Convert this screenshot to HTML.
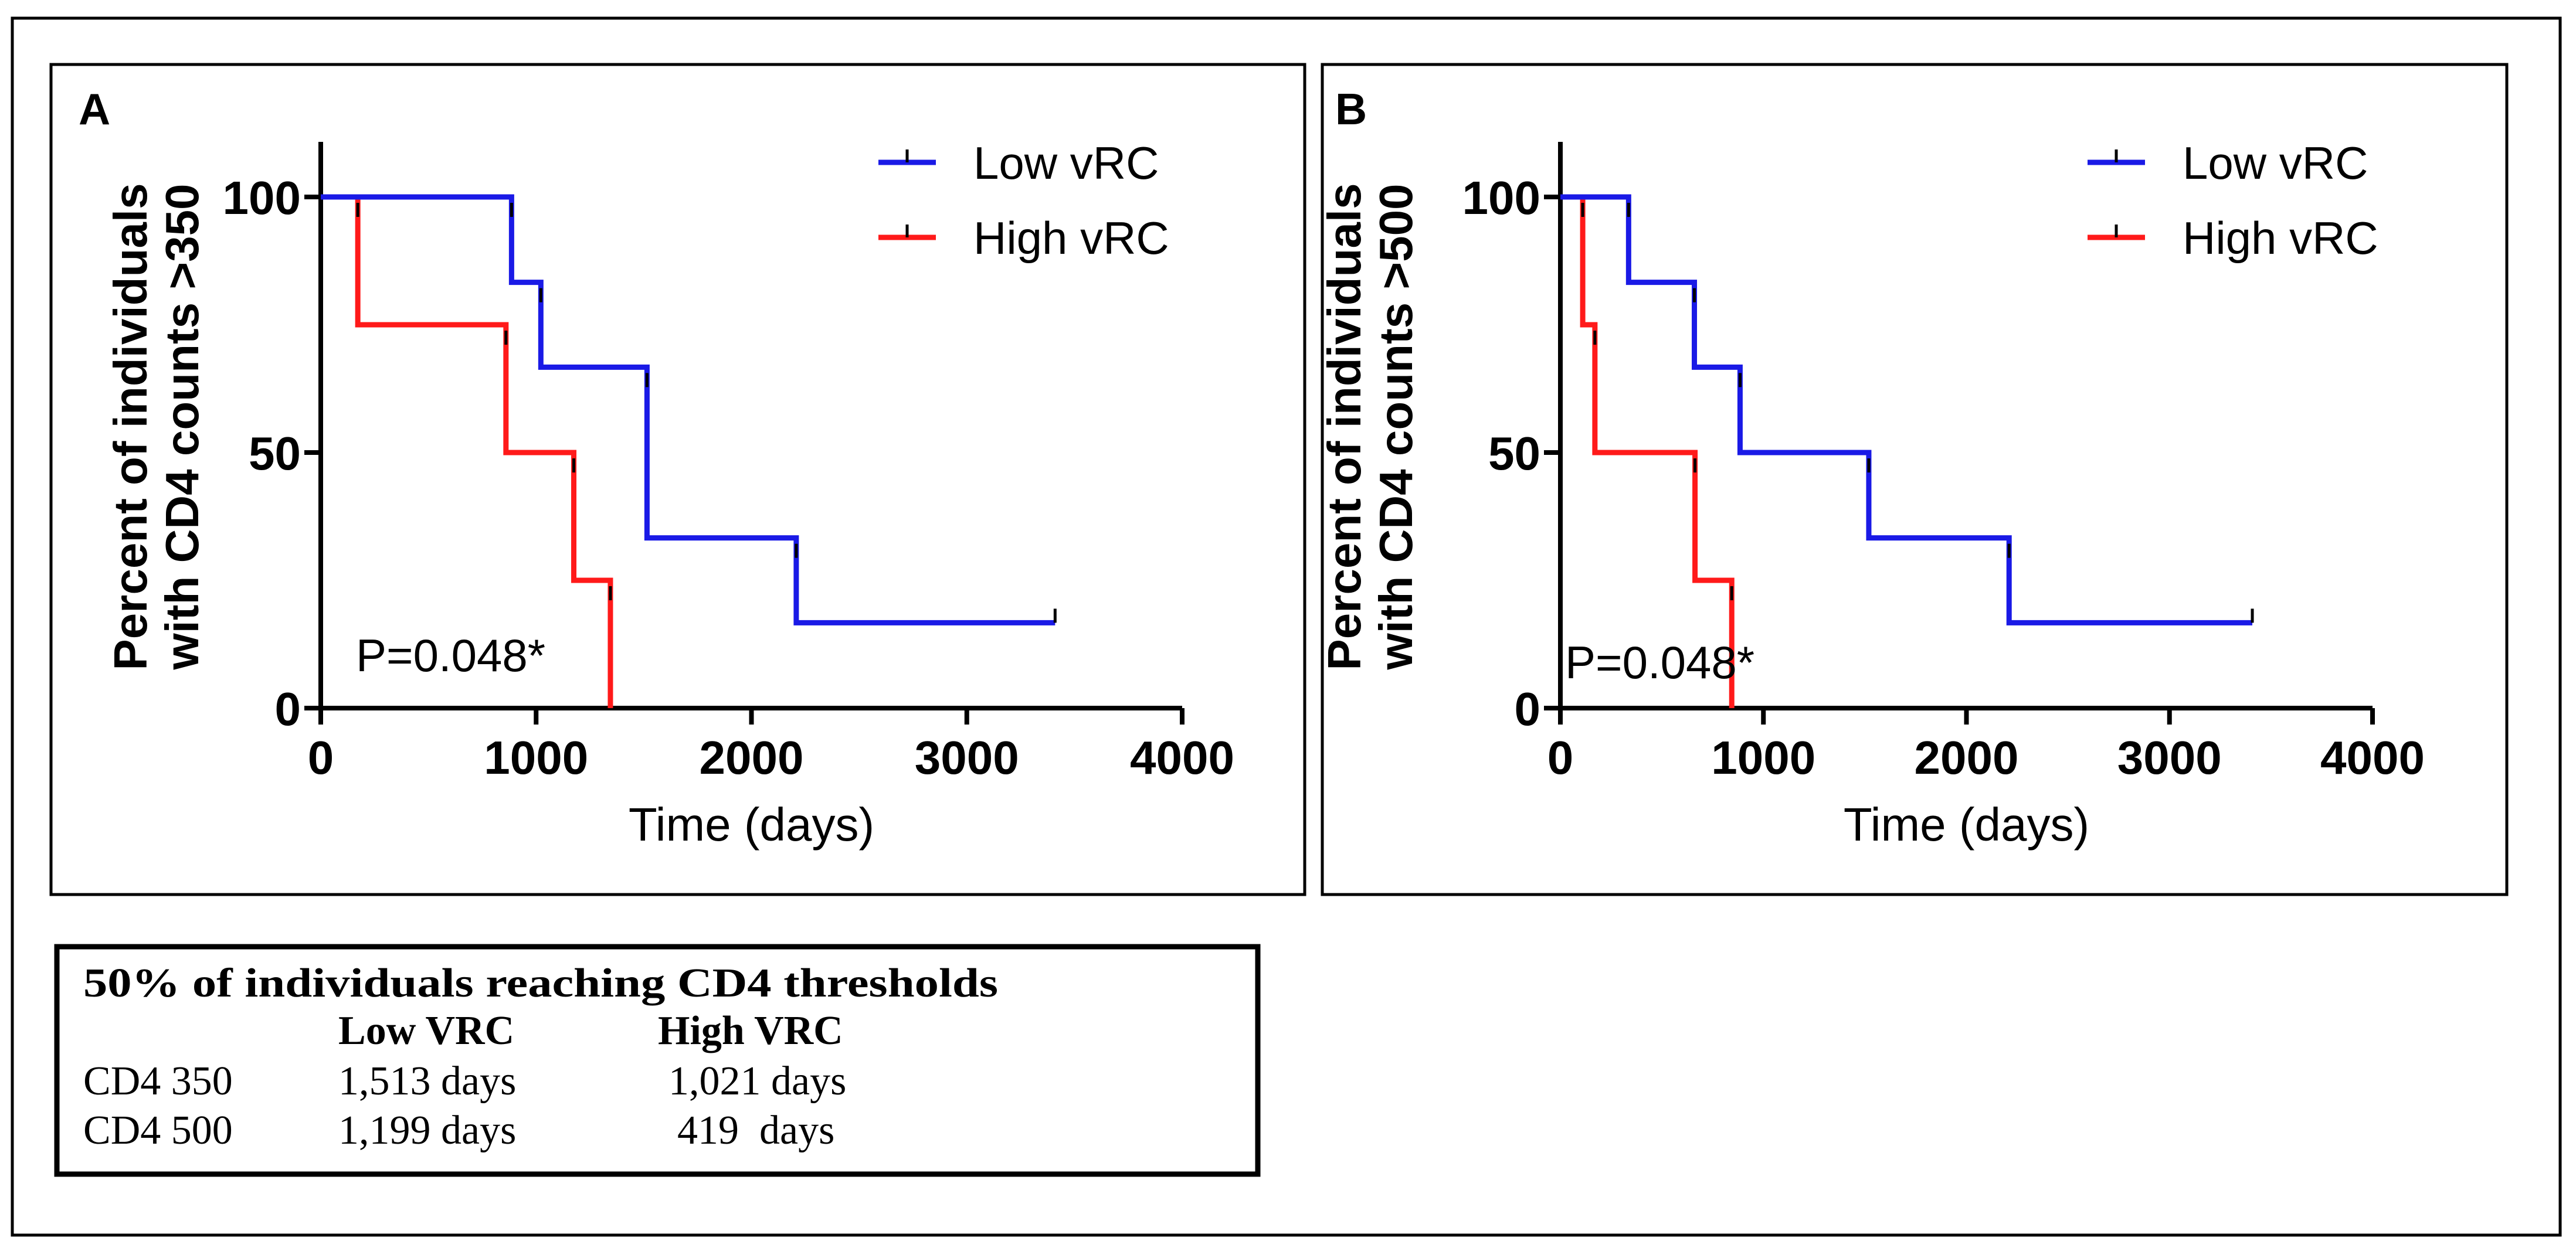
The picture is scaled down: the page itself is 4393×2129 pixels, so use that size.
<!DOCTYPE html>
<html><head><meta charset="utf-8"><style>
html,body{margin:0;padding:0;background:#fff}
svg{display:block}
</style></head><body>
<svg id="fig" width="4393" height="2129" viewBox="0 0 4393 2129" xmlns="http://www.w3.org/2000/svg">
<rect x="21" y="31" width="4345" height="2076" fill="none" stroke="#000" stroke-width="5"/>
<rect x="87" y="110" width="2138" height="1416" fill="none" stroke="#000" stroke-width="5"/>
<rect x="2255" y="110" width="2020" height="1416" fill="none" stroke="#000" stroke-width="5"/>
<g id="chartA"></g>
<g id="chartB"></g>
<g font-family="Liberation Serif, serif" font-size="70" fill="#000">
<rect x="97" y="1615" width="2048" height="388" fill="none" stroke="#000" stroke-width="9"/>
<text x="142" y="1700" font-weight="bold" textLength="1560" lengthAdjust="spacingAndGlyphs">50% of individuals reaching CD4 thresholds</text>
<text x="577" y="1781" font-weight="bold">Low VRC</text>
<text x="1122" y="1781" font-weight="bold">High VRC</text>
<text x="142" y="1867">CD4 350</text>
<text x="577" y="1867">1,513 days</text>
<text x="1140" y="1867">1,021 days</text>
<text x="142" y="1951">CD4 500</text>
<text x="577" y="1951">1,199 days</text>
<text x="1155" y="1951" xml:space="preserve">419  days</text>
</g>
</svg>
<script>
// Panel A data (CD4 > 350)
const xTicks = [0, 1000, 2000, 3000, 4000];
const yTicks = [0, 50, 100];
const lowA_t = [0, 886, 1022, 1515, 2208, 3410];
const lowA_s = [100, 83.3, 66.7, 33.3, 16.7, 16.7];
const highA_t = [0, 172, 860, 1175, 1345];
const highA_s = [100, 75, 50, 25, 0];
// Panel B data (CD4 > 500)
const lowB_t = [0, 336, 660, 885, 1519, 2210, 3408];
const lowB_s = [100, 83.3, 66.7, 50, 33.3, 16.7, 16.7];
const highB_t = [0, 110, 170, 663, 844];
const highB_s = [100, 75, 50, 25, 0];

const NS = "http://www.w3.org/2000/svg";
function mk(tag, attrs, parent){const e=document.createElementNS(NS,tag);for(const k in attrs)e.setAttribute(k,attrs[k]);parent.appendChild(e);return e;}

function drawChart(g, cfg){
  const x = v => cfg.x0 + (v/4000)*(cfg.x1-cfg.x0);
  const y = v => cfg.y0 - (v/100)*(cfg.y0-cfg.y100);
  // axes
  const ax = mk('line',{x1:x(0),y1:y(0),x2:x(4000),y2:y(0),stroke:'#000','stroke-width':8},g);
  
  
  const ay = mk('line',{x1:x(0),y1:cfg.yTop,x2:x(0),y2:y(0)+4,stroke:'#000','stroke-width':8},g);
  
  
  xTicks.forEach(v=>{
    const t = mk('line',{x1:x(v),y1:y(0),x2:x(v),y2:y(0)+28,stroke:'#000','stroke-width':8},g);
    
    
    const l = mk('text',{x:x(v),y:y(0)+112,'text-anchor':'middle','font-family':'Liberation Sans, sans-serif','font-weight':'bold','font-size':80},g);
    l.textContent = v;
    
    
  });
  yTicks.forEach(v=>{
    const t = mk('line',{x1:x(0)-28,y1:y(v),x2:x(0),y2:y(v),stroke:'#000','stroke-width':8},g);
    
    
    const l = mk('text',{x:x(0)-34,y:y(v)+29,'text-anchor':'end','font-family':'Liberation Sans, sans-serif','font-weight':'bold','font-size':80},g);
    l.textContent = v;
    
    
  });
  function series(ts, ss, color, name, censorEnd){
    let d = 'M'+x(ts[0])+','+y(ss[0]);
    for(let i=1;i<ts.length;i++){ d += ' H'+x(ts[i])+' V'+y(ss[i]); }
    const p = mk('path',{d:d,fill:'none',stroke:color,'stroke-width':9},g);
    
    
    for(let i=1;i<ts.length;i++){
      const c = mk('line',{x1:x(ts[i]),y1:y(ss[i-1])+(i==ts.length-1&&censorEnd?-24:10),x2:x(ts[i]),y2:y(ss[i-1])+(i==ts.length-1&&censorEnd?0:34),stroke:'#000','stroke-width':5},g);
      
      
    }
  }
  series(cfg.highT, cfg.highS, '#ff1a1a', 'high-vrc-curve', false);
  series(cfg.lowT, cfg.lowS, '#1a1ae6', 'low-vrc-curve', true);
  // labels
  const pl = mk('text',{x:cfg.lx,y:cfg.ly,'font-family':'Liberation Sans, sans-serif','font-size':75,'font-weight':'bold'},g);
  pl.textContent = cfg.letter;
  
  
  const pv = mk('text',{x:cfg.px,y:cfg.py,'font-family':'Liberation Sans, sans-serif','font-size':78},g);
  pv.textContent = 'P=0.048*';
  
  
  const xt = mk('text',{x:(cfg.x0+cfg.x1)/2,y:cfg.y0+226,'text-anchor':'middle','font-family':'Liberation Sans, sans-serif','font-size':80},g);
  xt.textContent = 'Time (days)';
  
  
  const yt = mk('text',{transform:'translate('+cfg.ytx+',728) rotate(-90)','text-anchor':'middle','font-family':'Liberation Sans, sans-serif','font-size':80,'font-weight':'bold'},g);
  
  
  const s1 = mk('tspan',{x:0,y:0},yt); s1.textContent='Percent of individuals';
  const s2 = mk('tspan',{x:0,y:88},yt); s2.textContent='with CD4 counts '+cfg.thr;
  // legend
  [['Low vRC','#1a1ae6',277],['High vRC','#ff1a1a',405]].forEach(L=>{
    const ln = mk('line',{x1:cfg.legX,y1:L[2],x2:cfg.legX+98,y2:L[2],stroke:L[1],'stroke-width':9},g);
    
    
    const tk = mk('line',{x1:cfg.legX+49,y1:L[2]-22,x2:cfg.legX+49,y2:L[2],stroke:'#000','stroke-width':5},g);
    
    
    const tx = mk('text',{x:cfg.legX+162,y:L[2]+28,'font-family':'Liberation Sans, sans-serif','font-size':78},g);
    tx.textContent = L[0];
    
    
  });
}
drawChart(document.getElementById('chartA'),{x0:547,x1:2016,y0:1208,y100:336,yTop:242,
  lowT:lowA_t,lowS:lowA_s,highT:highA_t,highS:highA_s,letter:'A',lx:134,ly:212,px:607,py:1145,
  ytx:250,thr:'>350',legX:1498});
drawChart(document.getElementById('chartB'),{x0:2661,x1:4046,y0:1208,y100:336,yTop:242,
  lowT:lowB_t,lowS:lowB_s,highT:highB_t,highS:highB_s,letter:'B',lx:2277,ly:212,px:2669,py:1157,
  ytx:2320,thr:'>500',legX:3560});
</script>
</body></html>
